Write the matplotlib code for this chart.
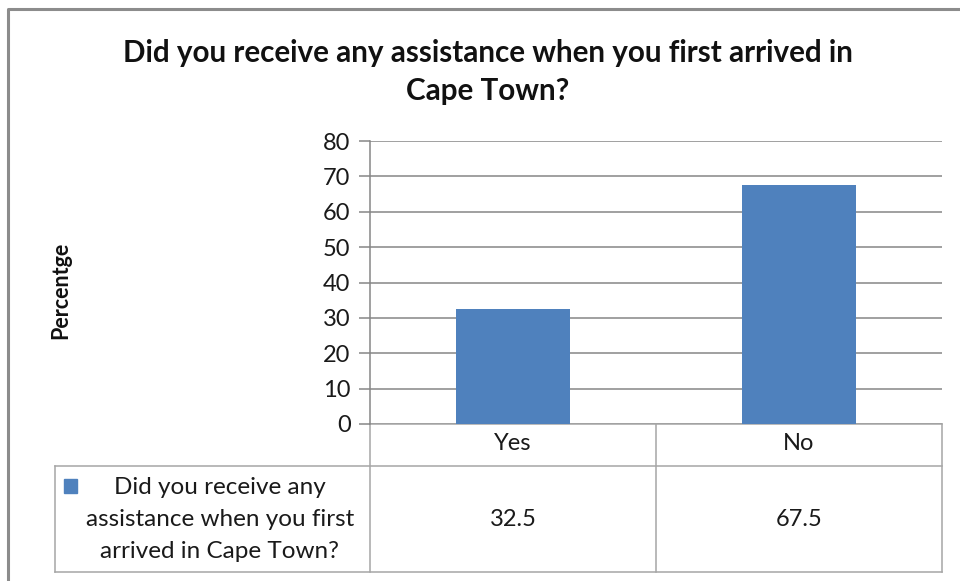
import matplotlib
matplotlib.use("Agg")
import matplotlib.pyplot as plt
from matplotlib.transforms import blended_transform_factory

categories = ["Yes", "No"]
values = [32.5, 67.5]
series_lines = ["Did you receive any", "assistance when you first", "arrived in Cape Town?"]
title_lines = ["Did you receive any assistance when you first arrived in", "Cape Town?"]
y_label = "Percentge"
y_ticks = [0, 10, 20, 30, 40, 50, 60, 70, 80]

BAR = "#4F81BD"
GRID = "#868686"
TABLE = "#A6A6A6"
TEXT = "#1a1a1a"
FONT = "Lato"

W, H = 960, 581
fig = plt.figure(figsize=(W / 100, H / 100), dpi=100)
fig.patch.set_facecolor("white")


def fx(px):
    return px / W


def fy(py):
    return 1 - py / H


# chart frame (left and top edges)
frame = fig.add_axes([0, 0, 1, 1])
frame.set_xlim(0, W)
frame.set_ylim(H, 0)
frame.axis("off")
frame.plot([8, 8, W], [H, 9, 9], color="#8C8C8C", lw=2.2, solid_capstyle="butt")

# plot area
left, right, top, bottom = 370, 942, 141, 424
ax = fig.add_axes([fx(left), fy(bottom), fx(right - left), (bottom - top) / H])
x = list(range(len(categories)))
ax.bar(x, values, width=0.4, color=BAR, zorder=3)
ax.set_xlim(-0.5, len(categories) - 0.5)
ax.set_ylim(0, 80)
ax.set_yticks(y_ticks)
ax.set_xticks([])
ax.yaxis.grid(True, color=GRID, lw=1.1)
ax.set_axisbelow(True)
for s in ["top", "right", "bottom"]:
    ax.spines[s].set_visible(False)
ax.spines["left"].set_color(GRID)
ax.spines["left"].set_linewidth(1.1)
ax.tick_params(axis="y", length=8, width=1.1, color=GRID, pad=6,
               labelsize=17, labelcolor=TEXT)
for lab in ax.get_yticklabels():
    lab.set_fontfamily(FONT)

for ty, line in zip([53, 91], title_lines):
    fig.text(fx(488), fy(ty), line, ha="center", va="center",
             fontsize=21.3, fontweight="bold", family=FONT, color="#111111")
fig.text(fx(61), fy(290), y_label, rotation=90, ha="center", va="center",
         fontsize=15.5, fontweight="bold", family=FONT, color="#111111")

# data table under the axis
row_mid, tab_bot = 466, 572
lw = 1.1
frame.plot([left, right], [bottom, bottom], color=TABLE, lw=lw)
frame.plot([55, right], [row_mid, row_mid], color=TABLE, lw=lw)
frame.plot([55, right], [tab_bot, tab_bot], color=TABLE, lw=lw)
frame.plot([55, 55], [row_mid, tab_bot], color=TABLE, lw=lw)
frame.plot([right, right], [bottom, tab_bot], color=TABLE, lw=lw)
frame.plot([left, left], [bottom, tab_bot], color=TABLE, lw=lw)
# column dividers between categories
bt = blended_transform_factory(ax.transData, fig.transFigure)
for i in range(1, len(categories)):
    ax.plot([i - 0.5, i - 0.5], [fy(bottom), fy(tab_bot)], transform=bt,
            color=TABLE, lw=lw, clip_on=False)

for i, (c, v) in enumerate(zip(categories, values)):
    ax.text(i, fy(444), c, transform=bt, ha="center", va="center",
            fontsize=17, family=FONT, color=TEXT)
    ax.text(i, fy(519), f"{v:g}", transform=bt, ha="center", va="center",
            fontsize=17, family=FONT, color=TEXT)

frame.add_patch(plt.Rectangle((64, 479), 13, 14, color=BAR))
for ty, line in zip([487, 519, 551], series_lines):
    fig.text(fx(220), fy(ty), line, ha="center", va="center",
             fontsize=17.5, family=FONT, color=TEXT)

fig.savefig("out.png", dpi=100)
